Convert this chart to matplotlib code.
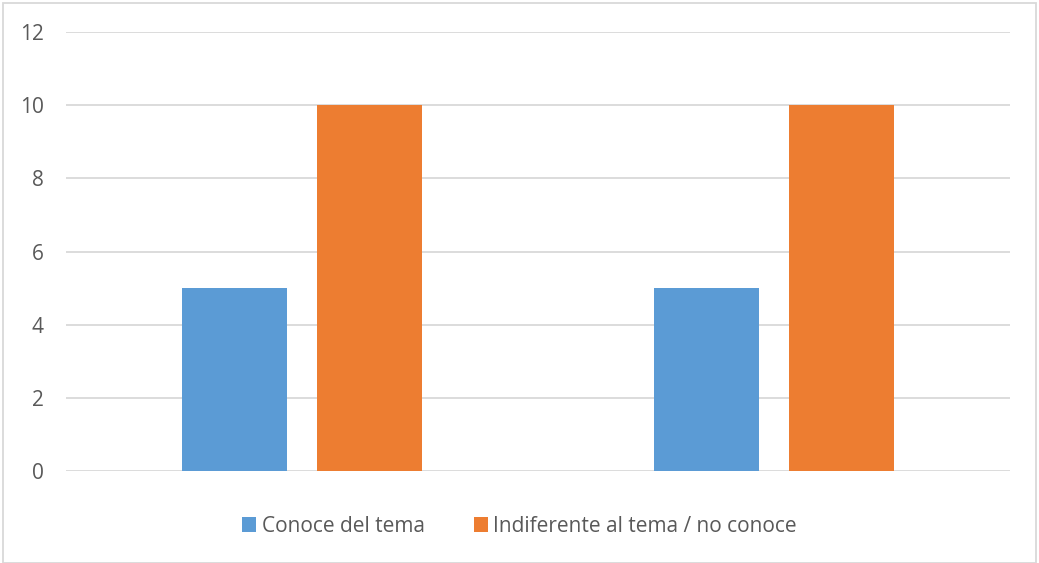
import matplotlib
matplotlib.use("Agg")
import matplotlib.pyplot as plt
from matplotlib.patches import Rectangle
import numpy as np

groups = ["Grupo 1", "Grupo 2"]
series_names = ["Conoce del tema", "Indiferente al tema / no conoce"]
conoce = [5, 5]
indiferente = [10, 10]
colors = ["#5B9BD5", "#ED7D31"]
yticks = [0, 2, 4, 6, 8, 10, 12]

plt.rcParams['font.family'] = ['Open Sans', 'DejaVu Sans']

fig = plt.figure(figsize=(10.39, 5.63), dpi=100)
ax = fig.add_axes([66/1039, 92/563, 944/1039, 439/563])

x = np.arange(len(groups))
w = 0.2225
off = 0.142
ax.bar(x - off, conoce, w, color=colors[0], label=series_names[0], zorder=3)
ax.bar(x + off, indiferente, w, color=colors[1], label=series_names[1], zorder=3)

ax.set_xlim(-0.5, 1.5)
ax.set_ylim(0, 12)
ax.set_yticks(yticks)
ax.set_yticklabels([str(t) for t in yticks])
ax.set_xticks([])
ax.grid(axis='y', color='#d9d9d9', linewidth=1.3, zorder=0)
for s in ax.spines.values():
    s.set_visible(False)
ax.tick_params(axis='y', length=0, pad=16, labelcolor='#595959', labelsize=15)

leg = fig.legend(loc='center', bbox_to_anchor=(0.5, (563-526)/563), ncol=2,
                 frameon=False, fontsize=15, handlelength=0.7, handleheight=0.7,
                 handletextpad=0.25, columnspacing=2.35, labelcolor='#595959')

fig.patches.append(Rectangle((3/1039, 0), 1033/1039, 560/563, transform=fig.transFigure,
                             fill=False, edgecolor='#d9d9d9', linewidth=1.3))

fig.savefig("out.png", dpi=100)
